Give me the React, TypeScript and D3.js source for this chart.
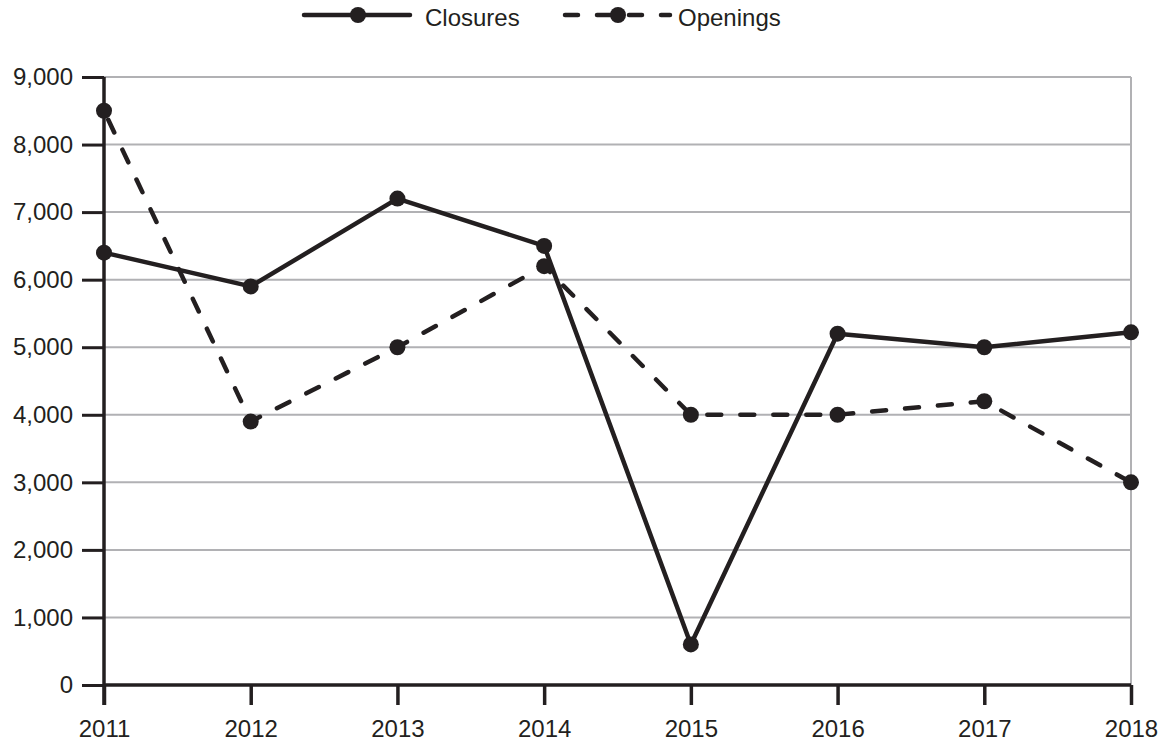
import React, { useEffect, useRef } from 'react';
import * as d3 from 'd3';

const years = ['2011', '2012', '2013', '2014', '2015', '2016', '2017', '2018'];
const closures = [6400, 5900, 7200, 6500, 600, 5200, 5000, 5220];
const openings = [8500, 3900, 5000, 6200, 4000, 4000, 4200, 3000];
const yTicks = [0, 1000, 2000, 3000, 4000, 5000, 6000, 7000, 8000, 9000];

const ink = '#231f20';
const gridColor = '#b1b1b4';
const font = '"Liberation Sans", Arial, sans-serif';

const App: React.FC = () => {
  const svgRef = useRef<SVGSVGElement>(null);

  useEffect(() => {
    if (!svgRef.current) return;
    const svg = d3.select(svgRef.current);
    svg.selectAll('*').remove();

    const width = 1170;
    const height = 741;
    const margin = { top: 77, right: 39, bottom: 56, left: 104 };
    const innerWidth = width - margin.left - margin.right;
    const innerHeight = height - margin.top - margin.bottom;

    const x = d3.scalePoint<string>().domain(years).range([0, innerWidth]);
    const y = d3.scaleLinear().domain([0, 9000]).range([innerHeight, 0]);

    const g = svg.append('g').attr('transform', `translate(${margin.left},${margin.top})`);

    // Grid lines
    g.selectAll('.grid')
      .data(yTicks.filter(t => t > 0))
      .enter().append('line')
      .attr('x1', 0)
      .attr('x2', innerWidth)
      .attr('y1', d => y(d))
      .attr('y2', d => y(d))
      .attr('stroke', gridColor)
      .attr('stroke-width', 2);

    // Right border
    g.append('line')
      .attr('x1', innerWidth).attr('x2', innerWidth)
      .attr('y1', 0).attr('y2', innerHeight)
      .attr('stroke', gridColor)
      .attr('stroke-width', 2);

    // Y axis
    const yAxis = g.append('g')
      .call(d3.axisLeft(y).tickValues(yTicks).tickSize(22).tickPadding(9).tickFormat(d3.format(',')));
    yAxis.select('.domain').remove();
    yAxis.selectAll('line').attr('stroke', ink).attr('stroke-width', 3);
    yAxis.selectAll('text')
      .attr('fill', ink)
      .style('font-family', font)
      .style('font-size', '24px');
    g.append('line')
      .attr('x1', 0).attr('x2', 0)
      .attr('y1', 0).attr('y2', innerHeight + 20)
      .attr('stroke', ink)
      .attr('stroke-width', 3.5);

    // X axis
    const xAxis = g.append('g')
      .attr('transform', `translate(0,${innerHeight})`)
      .call(d3.axisBottom(x).tickSize(20).tickPadding(15));
    xAxis.select('.domain').remove();
    xAxis.selectAll('line').attr('stroke', ink).attr('stroke-width', 3.5);
    xAxis.selectAll('text')
      .attr('fill', ink)
      .style('font-family', font)
      .style('font-size', '24px');
    g.append('line')
      .attr('x1', 0).attr('x2', innerWidth)
      .attr('y1', innerHeight).attr('y2', innerHeight)
      .attr('stroke', ink)
      .attr('stroke-width', 3.5);

    const line = d3.line<number>()
      .x((_, i) => x(years[i]) as number)
      .y(d => y(d));

    g.append('path')
      .datum(openings)
      .attr('fill', 'none')
      .attr('stroke', ink)
      .attr('stroke-width', 4.5)
      .attr('stroke-linecap', 'round')
      .attr('stroke-dasharray', '14,19')
      .attr('stroke-dashoffset', -10)
      .attr('d', line);

    g.append('path')
      .datum(closures)
      .attr('fill', 'none')
      .attr('stroke', ink)
      .attr('stroke-width', 4.5)
      .attr('stroke-linejoin', 'round')
      .attr('d', line);

    [openings, closures].forEach(series => {
      g.selectAll(null)
        .data(series)
        .enter().append('circle')
        .attr('cx', (_, i) => x(years[i]) as number)
        .attr('cy', d => y(d))
        .attr('r', 8)
        .attr('fill', ink);
    });

    // Legend
    const legend = svg.append('g');
    const ly = 15;
    legend.append('line')
      .attr('x1', 304).attr('x2', 410).attr('y1', ly).attr('y2', ly)
      .attr('stroke', ink).attr('stroke-width', 4.5).attr('stroke-linecap', 'round');
    legend.append('circle').attr('cx', 358).attr('cy', ly).attr('r', 8).attr('fill', ink);
    legend.append('text')
      .attr('x', 425).attr('y', 26)
      .attr('fill', ink)
      .style('font-family', font)
      .style('font-size', '24px')
      .text('Closures');

    legend.append('line')
      .attr('x1', 565).attr('x2', 670).attr('y1', ly).attr('y2', ly)
      .attr('stroke', ink).attr('stroke-width', 4.5)
      .attr('stroke-linecap', 'round')
      .attr('stroke-dasharray', '13,19');
    legend.append('circle').attr('cx', 618).attr('cy', ly).attr('r', 8).attr('fill', ink);
    legend.append('text')
      .attr('x', 678).attr('y', 26)
      .attr('fill', ink)
      .style('font-family', font)
      .style('font-size', '24px')
      .text('Openings');
  }, []);

  return (
    <svg
      ref={svgRef}
      width={1170}
      height={741}
      style={{ position: 'absolute', left: 0, top: 0, background: '#fff' }}
    />
  );
};

export default App;
